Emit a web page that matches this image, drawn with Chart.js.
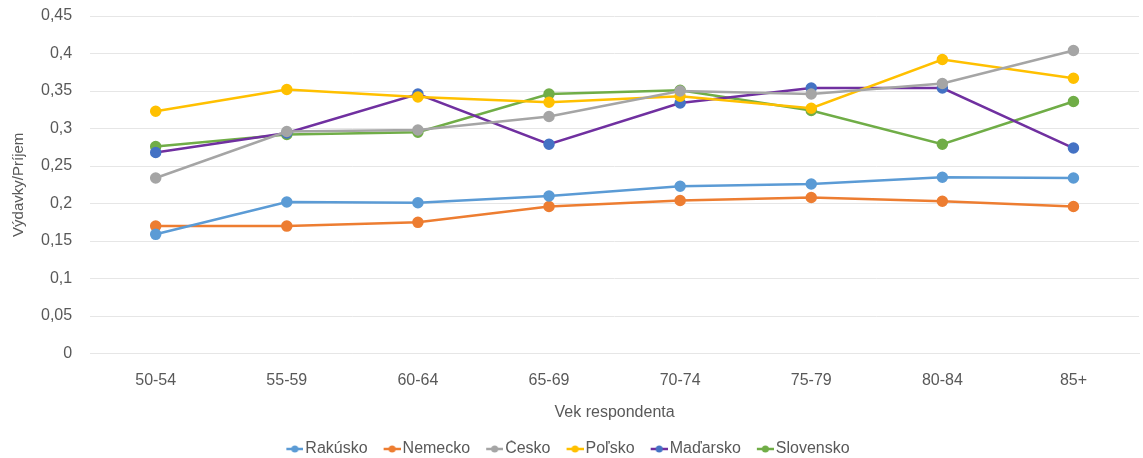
<!DOCTYPE html>
<html>
<head>
<meta charset="utf-8">
<script src="https://cdn.jsdelivr.net/npm/chart.js@4"></script>
<style>
  body { margin: 0; background: #fff; }
  #wrap { width: 1143px; height: 458px; }
</style>
</head>
<body>
<div id="wrap"><canvas id="lineChart" width="1143" height="458"></canvas></div>
<script>
var ageGroups = ['50-54', '55-59', '60-64', '65-69', '70-74', '75-79', '80-84', '85+'];
var rakusko   = [0.159, 0.202, 0.201, 0.210, 0.223, 0.226, 0.235, 0.234];
var nemecko   = [0.170, 0.170, 0.175, 0.196, 0.204, 0.208, 0.203, 0.196];
var cesko     = [0.234, 0.296, 0.298, 0.316, 0.350, 0.346, 0.360, 0.404];
var polsko    = [0.323, 0.352, 0.342, 0.335, 0.343, 0.327, 0.392, 0.367];
var madarsko  = [0.268, 0.294, 0.346, 0.279, 0.334, 0.354, 0.354, 0.274];
var slovensko = [0.276, 0.292, 0.295, 0.346, 0.351, 0.324, 0.279, 0.336];

var textColor = '#595959';
var fontFamily = '"Liberation Sans", Arial, sans-serif';

function series(label, data, lineColor, pointColor) {
    return {
        label: label,
        data: data,
        borderColor: lineColor,
        backgroundColor: pointColor,
        pointBackgroundColor: pointColor,
        pointBorderColor: pointColor,
        borderWidth: 2.5,
        pointRadius: 4.5,
        pointHoverRadius: 4.5,
        tension: 0
    };
}

// line-with-dot marker for the legend; canvas is wider than the mark so
// the mark sits right next to the text
function legendMark(lineColor, pointColor) {
    var c = document.createElement('canvas');
    c.width = 38; c.height = 10;
    var g = c.getContext('2d');
    g.strokeStyle = lineColor;
    g.lineWidth = 2.5;
    g.beginPath(); g.moveTo(21, 5); g.lineTo(38, 5); g.stroke();
    g.fillStyle = pointColor;
    g.beginPath(); g.arc(29.5, 5, 3.5, 0, Math.PI * 2); g.fill();
    return c;
}

// legend in the original sits a bit left of centre
var legendShift = {
    id: 'legendShift',
    afterLayout: function (chart) {
        chart.legend.left -= 14;
        chart.legend.right -= 14;
    }
};

var ctx = document.getElementById('lineChart').getContext('2d');
var myChart = new Chart(ctx, {
    type: 'line',
    data: {
        labels: ageGroups,
        datasets: [
            series('Rakúsko', rakusko, '#5B9BD5', '#5B9BD5'),
            series('Nemecko', nemecko, '#ED7D31', '#ED7D31'),
            series('Česko', cesko, '#A5A5A5', '#A5A5A5'),
            series('Poľsko', polsko, '#FFC000', '#FFC000'),
            series('Maďarsko', madarsko, '#7030A0', '#4472C4'),
            series('Slovensko', slovensko, '#70AD47', '#70AD47')
        ]
    },
    plugins: [legendShift],
    options: {
        responsive: false,
        animation: false,
        layout: { autoPadding: false, padding: { top: 0, right: 4, left: 10, bottom: -9 } },
        plugins: {
            tooltip: { enabled: false },
            legend: {
                position: 'bottom',
                labels: {
                    color: textColor,
                    font: { family: fontFamily, size: 16 },
                    usePointStyle: true,
                    pointStyleWidth: 26,
                    padding: 1,
                    generateLabels: function (chart) {
                        return chart.data.datasets.map(function (ds, i) {
                            return {
                                text: ds.label,
                                fontColor: textColor,
                                pointStyle: legendMark(ds.borderColor, ds.pointBackgroundColor),
                                datasetIndex: i,
                                hidden: false,
                                lineWidth: 0
                            };
                        });
                    }
                }
            }
        },
        scales: {
            x: {
                offset: true,
                grid: { display: false, drawTicks: false },
                border: { display: true, color: '#e6e6e6' },
                ticks: { color: textColor, font: { family: fontFamily, size: 16 }, padding: 17 },
                title: {
                    display: true,
                    text: 'Vek respondenta',
                    color: textColor,
                    font: { family: fontFamily, size: 16 },
                    padding: { top: -4, bottom: 18 }
                }
            },
            y: {
                min: 0,
                max: 0.45,
                afterFit: function (scale) {
                    scale.paddingTop = 16;
                },
                ticks: {
                    stepSize: 0.05,
                    color: textColor,
                    font: { family: fontFamily, size: 16 },
                    padding: 18,
                    callback: function (v) {
                        return (Math.round(v * 100) / 100).toString().replace('.', ',');
                    }
                },
                grid: { color: '#e6e6e6', lineWidth: 1, drawTicks: false },
                border: { display: false },
                title: {
                    display: true,
                    text: 'Výdavky/Príjem',
                    color: textColor,
                    font: { family: fontFamily, size: 15 },
                    padding: { top: 0, bottom: -5 }
                }
            }
        }
    }
});
</script>
</body>
</html>
